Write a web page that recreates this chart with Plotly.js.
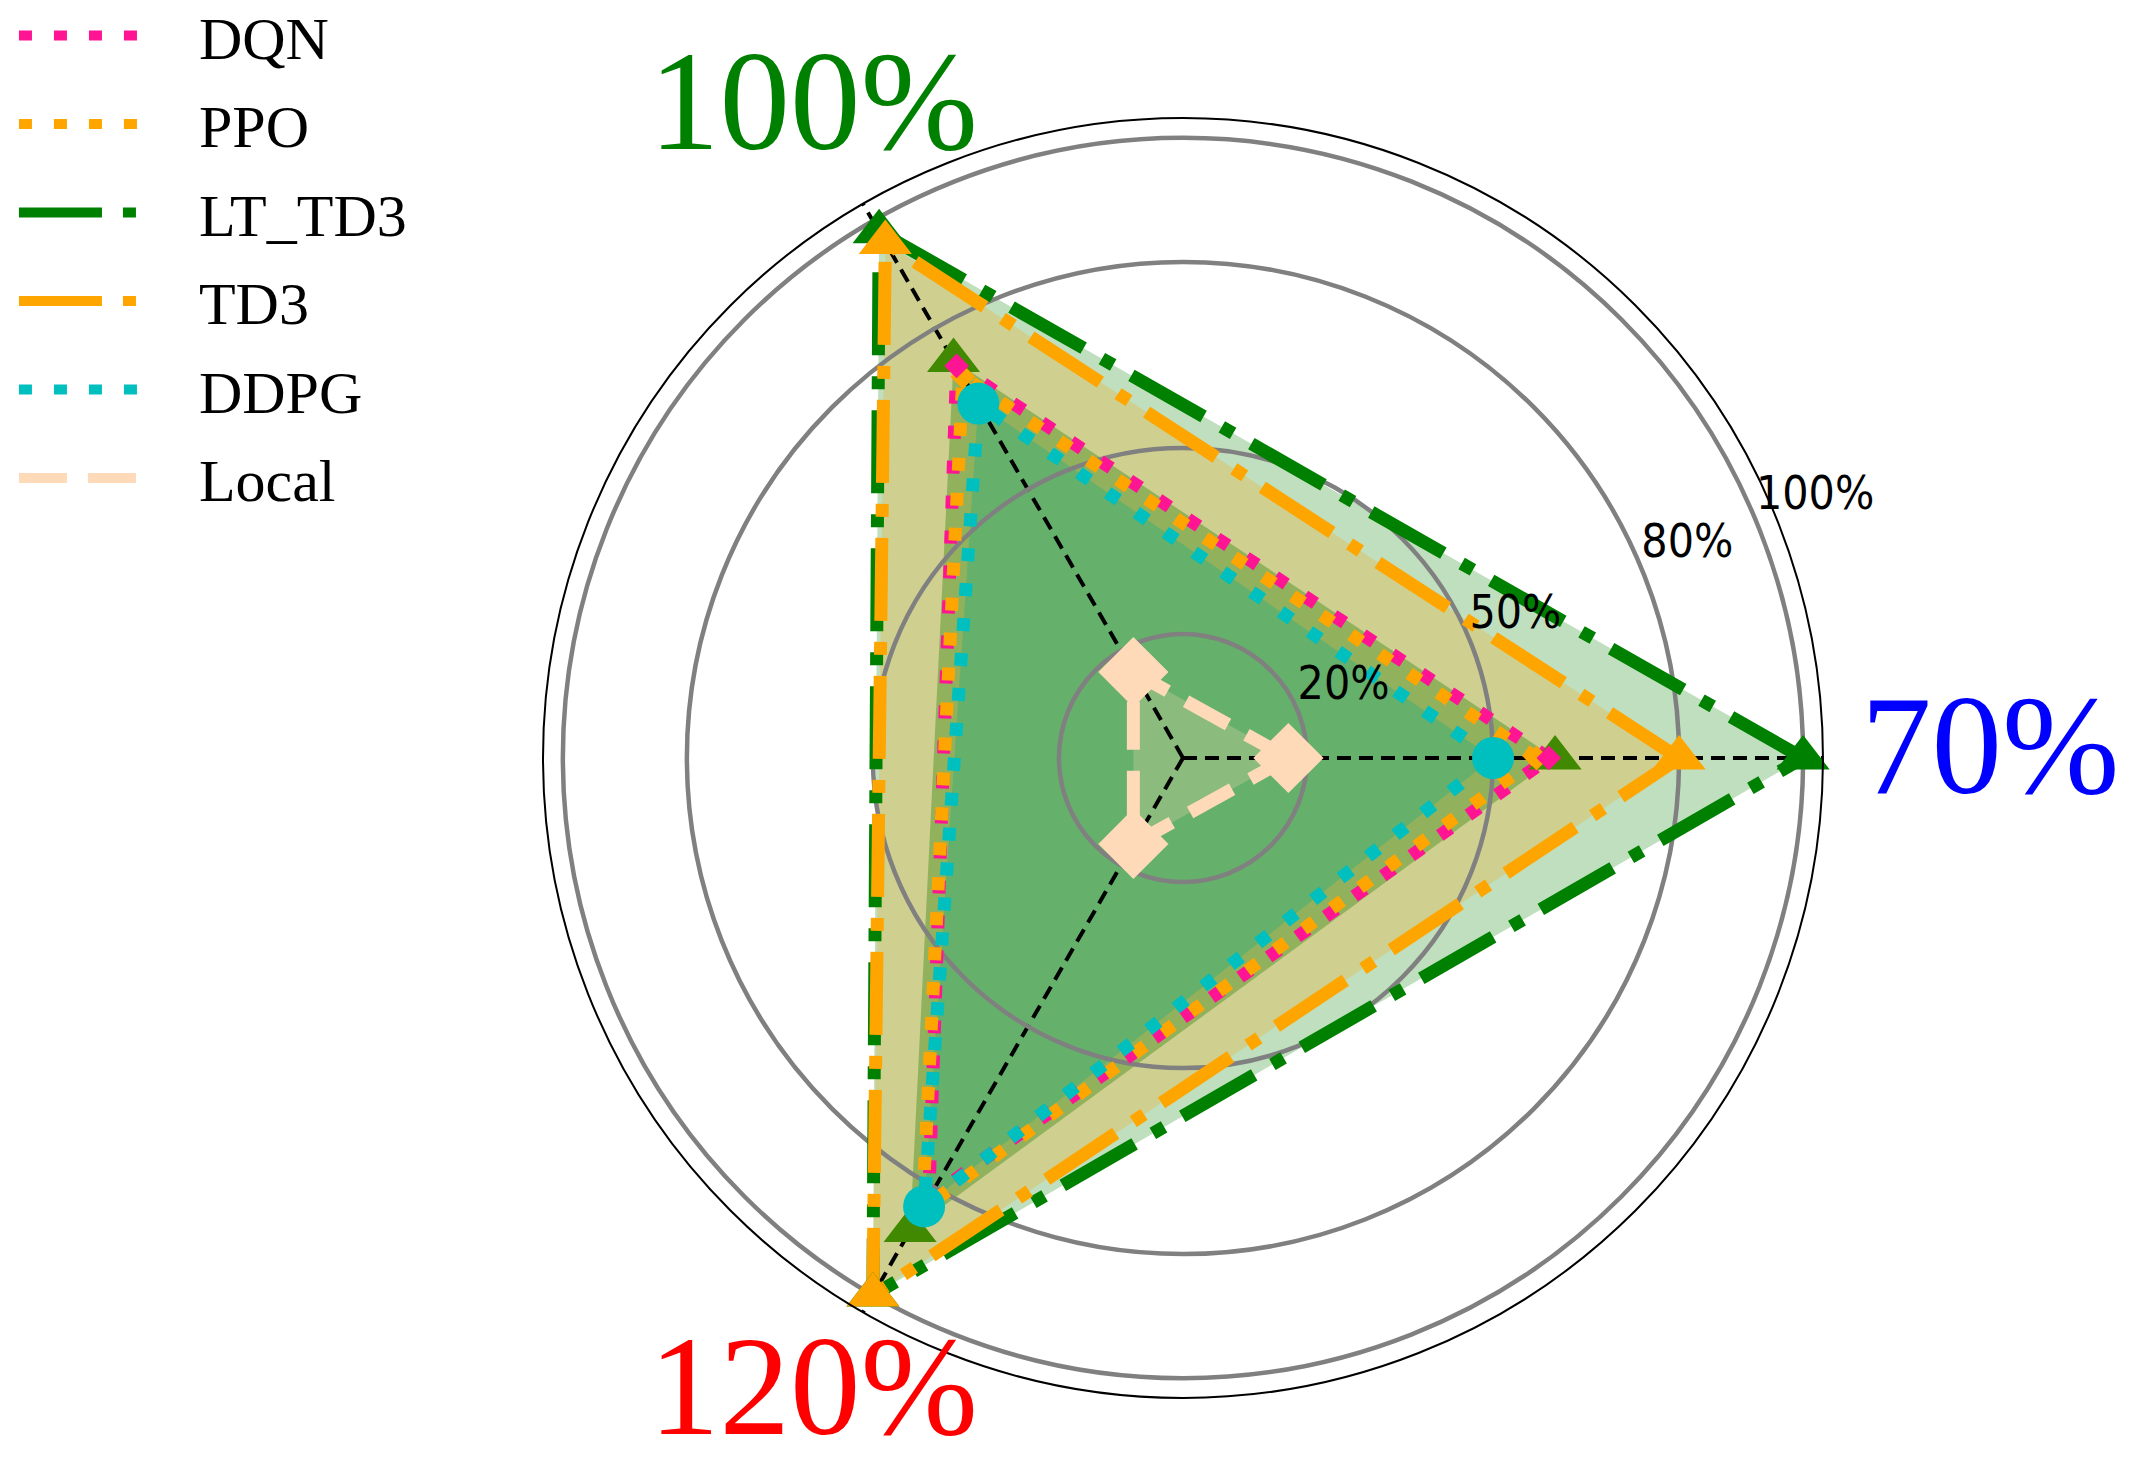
<!DOCTYPE html>
<html>
<head>
<meta charset="utf-8">
<script src="https://cdn.plot.ly/plotly-3.0.1.min.js"></script>
<style>
  html, body { margin: 0; padding: 0; background: #fff; }
  #radar { width: 2146px; height: 1466px; }
</style>
</head>
<body>
<div id="radar"></div>
<script>
// axes of the radar (one per load level) and their angle
var axisLabels = ["70%", "100%", "120%"];
var axisColors = ["#0000ff", "#008000", "#ff0000"];
var axisAngles = [0, 120, 240];

// radial grid
var radialTicks = [20, 50, 80, 100];
var radialTickText = ["20%", "50%", "80%", "100%"];

// values per method, same order as axisLabels
var dqn = [59, 73, 82];
var ppo = [57, 71, 84];
var ltTd3 = [100, 98, 100];
var td3 = [80, 96, 100];
var ddpg = [50, 66, 83.5];
var local = [17, 16, 16];
// second green triangle set drawn inside (no legend entry in the figure)
var ltTd3Inner = [60, 74, 88];

function closed(a) { return a.concat([a[0]]); }
var theta = closed(axisAngles);

function fillTrace(vals, color) {
  return {
    type: "scatterpolar", subplot: "polar",
    r: closed(vals), theta: theta,
    mode: "lines", line: {width: 0, color: "rgba(0,0,0,0)"},
    fill: "toself", fillcolor: color,
    showlegend: false, hoverinfo: "skip"
  };
}

function lineTrace(name, vals, color, dash) {
  return {
    type: "scatterpolar", subplot: "polar2",
    name: "\u2002\u2009" + name, legendgroup: name,
    r: closed(vals), theta: theta,
    mode: "lines",
    line: {color: color, width: 13, dash: dash}
  };
}

function markerTrace(group, vals, color, symbol, size) {
  return {
    type: "scatterpolar", subplot: "polar2",
    legendgroup: group, showlegend: false,
    r: vals, theta: axisAngles,
    mode: "markers",
    marker: {color: color, symbol: symbol, size: size, line: {width: 0}}
  };
}

var dotted = "13px,22px";
var dashdot = "83px,21px,13px,21px";
var dashed = "48px,21px";

var data = [
  // fills (bottom subplot, under the grid)
  fillTrace(ltTd3, "rgba(0,128,0,0.25)"),
  fillTrace(td3, "rgba(255,165,0,0.25)"),
  fillTrace(ltTd3Inner, "rgba(30,120,0,0.35)"),
  fillTrace(ddpg, "rgba(0,175,135,0.3)"),
  fillTrace(local, "rgba(255,218,185,0.25)"),

  // lines
  lineTrace("DQN", dqn, "#ff1493", dotted),
  lineTrace("PPO", ppo, "#ffa500", dotted),
  lineTrace("LT_TD3", ltTd3, "#008000", dashdot),
  lineTrace("TD3", td3, "#ffa500", dashdot),
  lineTrace("DDPG", ddpg, "#00bfbf", dotted),
  lineTrace("Local", local, "#ffdab9", dashed),

  // markers
  markerTrace("LT_TD3", ltTd3Inner, "#408900", "triangle-up", 46),
  markerTrace("LT_TD3", ltTd3, "#008000", "triangle-up", 46),
  markerTrace("TD3", td3, "#ffa500", "triangle-up", 46),
  markerTrace("PPO", ppo, "#ffa500", "diamond", 19),
  markerTrace("DQN", dqn, "#ff1493", "diamond", 19),
  markerTrace("DDPG", ddpg, "#00bfbf", "circle", 42),
  markerTrace("Local", local, "#ffdab9", "diamond", 54),

  // radial tick labels along 22.5 deg
  {
    type: "scatterpolar", subplot: "polar2",
    r: radialTicks, theta: radialTicks.map(function () { return 22.5; }),
    mode: "text", text: radialTickText, textposition: "top right",
    textfont: {family: "DejaVu Sans Condensed, DejaVu Sans", size: 46, color: "#000"},
    showlegend: false, hoverinfo: "skip"
  }
];

var dom = {x: [0.2530, 0.8495], y: [0.0464, 0.9195]};
var rRange = [0, 103.2];

var labelPos = [
  {x: 0.9273, y: 0.4918, yanchor: "middle"},
  {x: 0.3793, y: 0.9311, yanchor: "middle"},
  {x: 0.3793, y: 0.0, yanchor: "bottom"}
];
var annotations = axisLabels.map(function (t, i) {
  return {
    xref: "paper", yref: "paper", x: labelPos[i].x, y: labelPos[i].y,
    xanchor: "center", yanchor: labelPos[i].yanchor, showarrow: false,
    text: t, font: {family: "Liberation Serif", size: 141, color: axisColors[i]}
  };
});

var layout = {
  width: 2146, height: 1466,
  margin: {l: 0, r: 0, t: 0, b: 0, autoexpand: false},
  paper_bgcolor: "#fff",
  showlegend: true,
  legend: {
    x: 0.0065, y: 1.0068, xanchor: "left", yanchor: "top",
    font: {family: "Liberation Serif", size: 60, color: "#000"},
    itemwidth: 133, tracegroupgap: 7.5,
    bgcolor: "rgba(0,0,0,0)", borderwidth: 0
  },
  polar: {
    domain: dom, bgcolor: "#fff",
    radialaxis: {range: rRange, showgrid: false, showline: false, showticklabels: false, ticks: ""},
    angularaxis: {type: "linear", thetaunit: "degrees", rotation: 0, direction: "counterclockwise",
      showgrid: false, showline: false, showticklabels: false, ticks: ""}
  },
  polar2: {
    domain: dom, bgcolor: "rgba(0,0,0,0)",
    radialaxis: {range: rRange, tickmode: "array", tickvals: radialTicks, showticklabels: false,
      ticks: "", showline: false, angle: 22.5, gridcolor: "#808080", gridwidth: 4.5},
    angularaxis: {type: "linear", thetaunit: "degrees", rotation: 0, direction: "counterclockwise",
      tickmode: "array", tickvals: axisAngles, showticklabels: false, ticks: "",
      gridcolor: "#000", gridwidth: 4, griddash: "14px,8px",
      showline: true, linecolor: "#000", linewidth: 2}
  },
  annotations: annotations
};

Plotly.newPlot("radar", data, layout, {staticPlot: true});
</script>
</body>
</html>
